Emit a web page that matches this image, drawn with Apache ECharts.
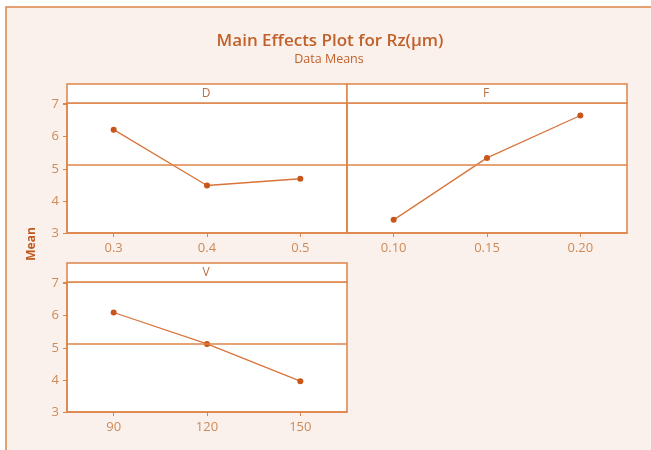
<!DOCTYPE html>
<html><head><meta charset="utf-8">
<script src="https://cdn.jsdelivr.net/npm/echarts@6/dist/echarts.min.js"></script>
<style>html,body{margin:0;padding:0;background:#fff;overflow:hidden}#c{width:651px;height:450px}</style>
</head><body><div id="c"></div>
<script>
const dLevels = ['0.3', '0.4', '0.5'];
const dMeans = [6.22, 4.48, 4.69];
const fLevels = ['0.10', '0.15', '0.20'];
const fMeans = [3.41, 5.34, 6.66];
const vLevels = ['90', '120', '150'];
const vMeans = [6.10, 5.12, 3.96];
const grandMean = 5.12;
const yTicks = [3, 4, 5, 6, 7];

const frameColor = '#dd8448';
const lineColor = '#d9743a';
const dotColor = '#c8561a';
const labelColor = '#cc8a58';
const fontFam = '"Open Sans", "DejaVu Sans", sans-serif';

const panels = [
  {name: 'D', levels: dLevels, means: dMeans, left: 67, top: 103, yLabels: true},
  {name: 'F', levels: fLevels, means: fMeans, left: 347, top: 103, yLabels: false},
  {name: 'V', levels: vLevels, means: vMeans, left: 67, top: 282, yLabels: true}
];
const W = 280, H = 130, STRIP = 19;

const chart = echarts.init(document.getElementById('c'));
const grids = [], xAxes = [], yAxes = [], series = [], graphics = [];

graphics.push({type: 'rect', shape: {x: 6, y: 7, width: 900, height: 700},
  style: {fill: '#fbf1ec', stroke: frameColor, lineWidth: 1.5}, z: -10});

graphics.push({type: 'text', x: 330, y: 41,
  style: {text: 'Main Effects Plot for Rz(µm)', fill: '#c0612a', font: '600 17px ' + fontFam,
    textAlign: 'center', textVerticalAlign: 'middle'}});
graphics.push({type: 'text', x: 329, y: 59,
  style: {text: 'Data Means', fill: '#c0612a', font: '12.5px ' + fontFam,
    textAlign: 'center', textVerticalAlign: 'middle'}});

panels.forEach((p, i) => {
  grids.push({left: p.left, top: p.top, width: W, height: H, show: true,
    backgroundColor: '#ffffff', borderColor: frameColor, borderWidth: 1.5});
  graphics.push({type: 'rect', shape: {x: p.left, y: p.top - STRIP, width: W, height: STRIP},
    style: {fill: '#ffffff', stroke: frameColor, lineWidth: 1.5}, z: 1});
  graphics.push({type: 'text', x: p.left + W / 2 - 1, y: p.top - STRIP / 2, z: 2,
    style: {text: p.name, fill: '#b8703f', font: '12px ' + fontFam,
      textAlign: 'center', textVerticalAlign: 'middle'}});
  xAxes.push({gridIndex: i, type: 'category', data: p.levels, boundaryGap: true,
    axisLine: {show: true, lineStyle: {color: frameColor, width: 1.5}},
    axisTick: {show: true, alignWithLabel: true, length: 4, lineStyle: {color: frameColor}},
    axisLabel: {color: labelColor, fontFamily: fontFam, fontSize: 13, margin: 9},
    splitLine: {show: false}});
  yAxes.push({gridIndex: i, type: 'value', min: 3, max: 7.05, interval: 1,
    axisLine: {show: true, lineStyle: {color: frameColor, width: 1.5}},
    axisTick: {show: p.yLabels, length: 4, lineStyle: {color: frameColor}},
    axisLabel: {show: p.yLabels, color: labelColor, fontFamily: fontFam, fontSize: 13, margin: 8,
      customValues: yTicks},
    splitLine: {show: false}});
  series.push({type: 'line', xAxisIndex: i, yAxisIndex: i, data: p.means,
    symbol: 'circle', symbolSize: 6,
    lineStyle: {color: lineColor, width: 1.3},
    itemStyle: {color: dotColor},
    markLine: {silent: true, symbol: ['none', 'none'], label: {show: false},
      lineStyle: {color: frameColor, type: 'solid', width: 1.5},
      data: [{yAxis: grandMean}]},
    animation: false});
});

graphics.push({type: 'text', x: 32, y: 244, rotation: Math.PI / 2,
  style: {text: 'Mean', fill: '#c0581e', font: 'bold 12px ' + fontFam,
    textAlign: 'center', textVerticalAlign: 'middle'}});

chart.setOption({
  animation: false,
  backgroundColor: '#ffffff',
  grid: grids,
  xAxis: xAxes,
  yAxis: yAxes,
  series: series,
  graphic: graphics
});
</script></body></html>
